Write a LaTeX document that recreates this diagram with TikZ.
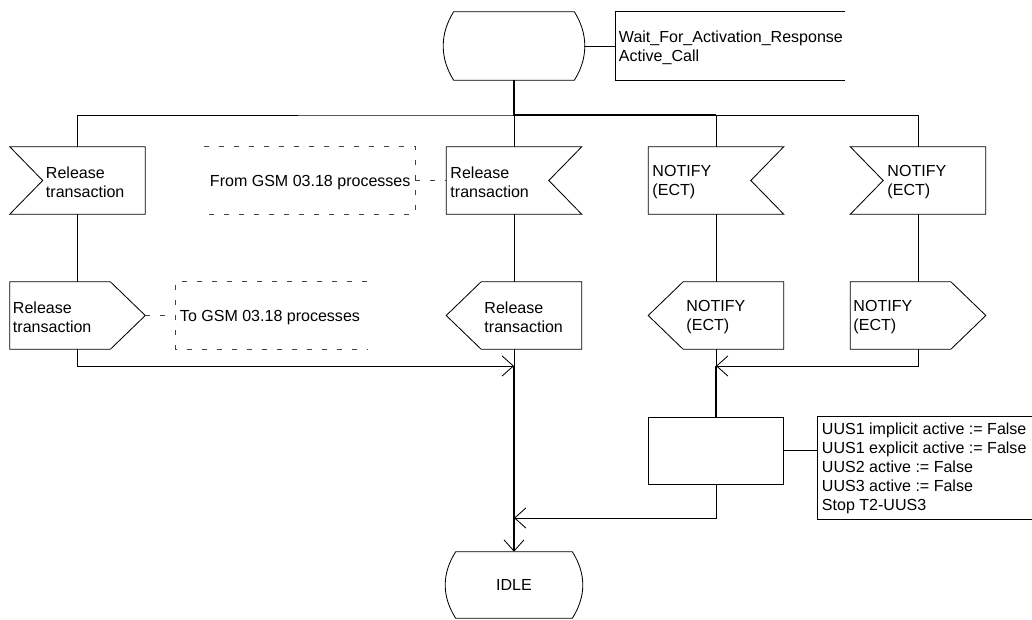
\documentclass[tikz,border=0pt]{standalone}
\usepackage{fontspec}
\setmainfont{Liberation Sans}
\usetikzlibrary{arrows.meta, positioning, calc}
\tikzset{
  sdl/.style={draw=none, minimum width=3.375cm, minimum height=1.675cm, inner sep=0pt,
              font=\fontsize{11.4}{13.5}\selectfont},
  lbl/.style={inner sep=0pt, anchor=west, align=left, font=\fontsize{11.4}{13.5}\selectfont},
  outl/.style={draw=black, line width=0.6pt, line join=miter},
  flow/.style={draw=black, line width=0.6pt},
  bold/.style={draw=black, line width=1.3pt},
  into/.style={-{Straight Barb[length=2.8mm, width=5mm, line width=0.6pt]}},
  cmt/.style={draw=black, line width=0.6pt},
  cmtdash/.style={draw=black!75, line width=0.6pt, dash pattern=on 1.25mm off 2.5mm},
}
% SDL symbol outlines drawn on the anchors of a named node
\newcommand{\sdlinl}[1]{%
  \draw[outl] (#1.north west) -- (#1.north east) -- (#1.south east) -- (#1.south west)
    -- ($(#1.west)+(33,0)$) -- cycle;}
\newcommand{\sdlinr}[1]{%
  \draw[outl] (#1.north east) -- (#1.north west) -- (#1.south west) -- (#1.south east)
    -- ($(#1.east)+(-33,0)$) -- cycle;}
\newcommand{\sdloutr}[1]{%
  \draw[outl] (#1.north west) -- ($(#1.north east)+(-35,0)$) -- (#1.east)
    -- ($(#1.south east)+(-35,0)$) -- (#1.south west) -- cycle;}
\newcommand{\sdloutl}[1]{%
  \draw[outl] (#1.north east) -- ($(#1.north west)+(35,0)$) -- (#1.west)
    -- ($(#1.south west)+(35,0)$) -- (#1.south east) -- cycle;}
\newcommand{\sdlstate}[1]{%
  \draw[outl] ($(#1.north west)+(10,0)$) -- ($(#1.north east)+(-10,0)$)
    .. controls ($(#1.north east)+(4,22)$) and ($(#1.south east)+(4,-22)$) .. ($(#1.south east)+(-10,0)$)
    -- ($(#1.south west)+(10,0)$)
    .. controls ($(#1.south west)+(-4,-22)$) and ($(#1.north west)+(-4,22)$) .. cycle;}

\begin{document}
\begin{tikzpicture}[x=0.025cm, y=-0.025cm]
  \useasboundingbox (0,0) rectangle (1032,619);

  % states
  \node[sdl, minimum width=3.5cm, minimum height=1.7cm] (wait) at (514,46) {};
  \node[sdl, minimum width=3.4cm, minimum height=1.65cm] (idle) at (514,585) {IDLE};
  \sdlstate{wait}
  \sdlstate{idle}

  % inputs and outputs
  \node[sdl] (inp1) at (77.5,180.5) {};
  \node[sdl] (inp2) at (514,180.5) {};
  \node[sdl] (inp3) at (716,180.5) {};
  \node[sdl] (inp4) at (918,180.5) {};
  \node[sdl] (outp1) at (77.5,315.5) {};
  \node[sdl] (outp2) at (514,315.5) {};
  \node[sdl] (outp3) at (716,315.5) {};
  \node[sdl] (outp4) at (918,315.5) {};
  \foreach \n in {inp1,inp4} \sdlinl{\n};
  \foreach \n in {inp2,inp3} \sdlinr{\n};
  \foreach \n in {outp1,outp4} \sdloutr{\n};
  \foreach \n in {outp2,outp3} \sdloutl{\n};
  \foreach \n/\dx/\t in {inp1/36/{Release\\transaction}, inp2/4/{Release\\transaction},
                         inp3/4/{NOTIFY\\(ECT)}, inp4/37/{NOTIFY\\(ECT)},
                         outp1/3/{Release\\transaction}, outp2/38/{Release\\transaction},
                         outp3/38/{NOTIFY\\(ECT)}, outp4/3/{NOTIFY\\(ECT)}}
    \node[lbl] (\n-txt) at ($(\n.west)+(\dx,2)$) {\t};

  % task
  \node[sdl, draw, line width=0.6pt] (task) at (716,450.5) {};

  % comments
  \node[sdl, minimum width=5.725cm, minimum height=1.7cm] (cmtstate) at (730.5,46) {};
  \node[sdl, minimum width=5.275cm] (cmtfrom) at (309.5,180.5) {};
  \node[sdl, minimum width=4.775cm] (cmtto) at (271.5,315.5) {};
  \node[sdl, minimum width=5.35cm, minimum height=2.55cm] (cmttask) at (925,468) {};
  \draw[cmt] (cmtstate.north east) -- (cmtstate.north west) -- (cmtstate.south west) -- (cmtstate.south east);
  \draw[cmtdash] (cmtfrom.north west) -- (cmtfrom.north east) -- (cmtfrom.south east) -- (cmtfrom.south west);
  \draw[cmtdash] (cmtto.north east) -- (cmtto.north west) -- (cmtto.south west) -- (cmtto.south east);
  \draw[cmt] (cmttask.north east) -- (cmttask.north west) -- (cmttask.south west) -- (cmttask.south east);
  \node[lbl] (cmtstate-txt) at ($(cmtstate.west)+(3,2)$) {Wait\_For\_Activation\_Response\\Active\_Call};
  \node[lbl] (cmtfrom-txt) at ($(cmtfrom.west)+(6,2)$) {From GSM 03.18 processes};
  \node[lbl] (cmtto-txt) at ($(cmtto.west)+(4,2)$) {To GSM 03.18 processes};
  \node[lbl] (cmttask-txt) at ($(cmttask.west)+(4,0)$)
    {UUS1 implicit active := False\\UUS1 explicit active := False\\UUS2 active := False\\UUS3 active := False\\Stop T2-UUS3};
  \draw[flow] (wait.east) -- (cmtstate.west);
  \draw[cmtdash] (cmtfrom.east) -- (inp2.west);
  \draw[cmtdash] (outp1.east) -- (cmtto.west);
  \draw[flow] (task.east) -- (task.east -| cmttask.west);

  % flow lines
  \coordinate (bus) at (514,115);
  \draw[flow] (inp1.north) |- (bus) -| (inp4.north);
  \draw[flow] (bus) -- (inp2.north);
  \draw[flow] (inp3.north) -- (inp3.north |- bus);
  \draw[bold] (wait.south) -- (bus) -- (bus -| inp3.north);
  \foreach \i in {1,...,4} \draw[flow] (inp\i.south) -- (outp\i.north);

  \coordinate (mrgl) at (514,366);
  \coordinate (mrgr) at (716,366);
  \coordinate (back) at (514,518);
  \draw[flow, into] (outp1.south) |- (mrgl);
  \draw[flow] (outp2.south) -- (mrgl);
  \draw[bold, into] (mrgl) -- (idle.north);
  \draw[flow, into] (outp4.south) |- (mrgr);
  \draw[flow] (outp3.south) -- (mrgr);
  \draw[bold] (mrgr) -- (task.north);
  \draw[flow, into] (task.south) |- (back);
\end{tikzpicture}
\end{document}
